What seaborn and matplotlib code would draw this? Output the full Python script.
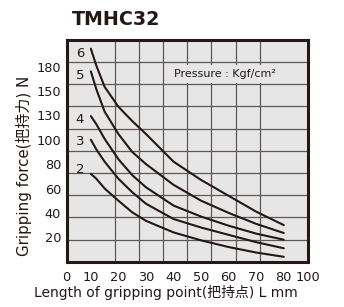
import numpy as np
import pandas as pd
import matplotlib
matplotlib.use("Agg")
import matplotlib.pyplot as plt
import seaborn as sns

# gripping point length L (mm)
length_mm = [10, 12, 15, 20, 25, 30, 40, 50, 60, 70, 80]
# gripping force (N) for each pressure (kgf/cm2)
force_p2 = [72, 68, 60, 50, 40.5, 33.5, 24, 17.5, 12, 7.5, 4]
force_p3 = [100, 92, 82, 68, 57, 47.5, 35, 28, 22, 16, 11]
force_p4 = [129, 119, 101, 84, 71, 61, 46, 37, 29.5, 23, 18]
force_p5 = [174, 152, 133, 107, 90, 80, 63, 50, 40, 31, 23.5]
force_p6 = [202, 181, 155, 137, 123, 107, 82, 67, 54, 41, 30]
pressures = [2, 3, 4, 5, 6]

x_tick_vals = [0, 10, 20, 30, 40, 50, 60, 70, 80, 100]
y_tick_vals = [20, 40, 60, 80, 100, 130, 150, 180]

rows = []
for p, f in zip(pressures, [force_p2, force_p3, force_p4, force_p5, force_p6]):
    for l, v in zip(length_mm, f):
        rows.append({"L": l, "force": v, "pressure": p})
df = pd.DataFrame(rows)

sns.set_theme(style="white")
plt.rcParams["font.family"] = ["DejaVu Sans", "Noto Sans CJK SC"]

ink = "#231815"

fig = plt.figure(figsize=(3.44, 3.07), dpi=100)
ax = fig.add_axes([0.194, 0.1476, 0.701, 0.7224])
ax.set_facecolor("#e6e6e6")

sns.lineplot(data=df, x="L", y="force", hue="pressure", units="pressure",
             estimator=None, palette=[ink] * 5, linewidth=1.5,
             legend=False, ax=ax)

# the catalogue uses stretched, uneven axes: piecewise-linear scales
x_anchor = [0, 10, 80, 100]
x_pos = [0, 1, 9, 10]
y_anchor = [0] + y_tick_vals + [210, 240]
y_pos = list(1.1 * np.arange(len(y_anchor)))

ax.set_xscale("function", functions=(lambda v: np.interp(v, x_anchor, x_pos),
                                     lambda p: np.interp(p, x_pos, x_anchor)))
ax.set_yscale("function", functions=(lambda v: np.interp(v, y_anchor, y_pos),
                                     lambda p: np.interp(p, y_pos, y_anchor)))

y_top = np.interp(10, y_pos, y_anchor)
ax.set_xlim(0, 100)
ax.set_ylim(0, y_top)

ax.set_xticks(x_tick_vals)
ax.set_xticklabels([str(v) for v in x_tick_vals])
ax.set_yticks(y_tick_vals)
ax.set_yticklabels([str(v) for v in y_tick_vals])
ax.set_xticks(np.interp(np.arange(11), x_pos, x_anchor), minor=True)
ax.set_yticks(np.interp(np.arange(11), y_pos, y_anchor), minor=True)
ax.grid(False, which="major")
ax.grid(True, which="minor", color="#5f5856", linewidth=0.9)
ax.set_axisbelow(True)
ax.tick_params(which="both", length=0, labelsize=9.3, colors=ink)
ax.tick_params(axis="x", pad=6.5)
ax.tick_params(axis="y", pad=4)

for s in ax.spines.values():
    s.set_visible(True)
    s.set_color(ink)
    s.set_linewidth(2.2)

ax.set_xlabel("Length of gripping point(把持点) L mm", fontsize=10, color=ink)
ax.xaxis.set_label_coords(0.411, -0.105)
ax.set_ylabel("Gripping force(把持力) N", fontsize=10.8, color=ink)
ax.yaxis.set_label_coords(-0.143, 0.43)

# pressure numbers next to curve starts
label_y = {6: 0.94, 5: 0.839, 4: 0.639, 3: 0.541, 2: 0.416}
for p in pressures:
    ax.text(0.055, label_y[p], str(p), transform=ax.transAxes, fontsize=9.5,
            color=ink, ha="center", va="center")

ax.text(0.655, 0.847, "Pressure : Kgf/cm²", transform=ax.transAxes,
        fontsize=8, color=ink, ha="center", va="center",
        bbox=dict(facecolor="#e6e6e6", edgecolor="none", pad=3))

fig.text(0.337, 0.938, "TMHC32", fontsize=13.7, fontweight="bold", color=ink,
         ha="center", va="center")

fig.savefig("out.png", dpi=100)
